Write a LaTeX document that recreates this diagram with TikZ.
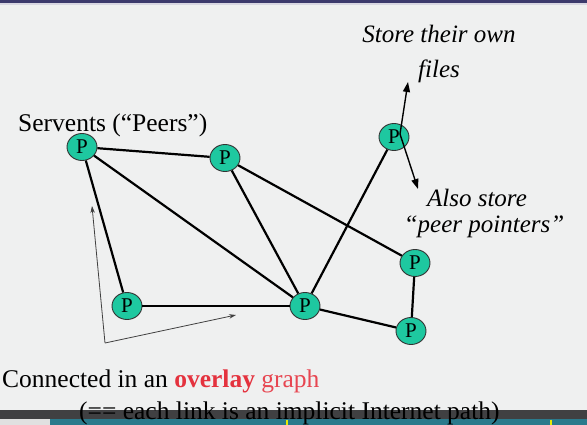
\documentclass[tikz,border=0pt]{standalone}
\usepackage{fontspec}
\setmainfont{Liberation Serif}
\usetikzlibrary{shapes.geometric,arrows.meta}
\definecolor{bgc}{RGB}{239,240,240}
\definecolor{topbar}{RGB}{60,58,108}
\definecolor{peerfill}{RGB}{30,200,160}
\definecolor{ovred}{RGB}{228,50,62}
\definecolor{bargray}{RGB}{64,64,66}
\definecolor{barteal}{RGB}{43,122,140}
\tikzset{
  peer/.style={ellipse, draw=black!80, line width=0.9pt, fill=peerfill,
    minimum width=30pt, minimum height=27pt, inner sep=0pt,
    font=\fontsize{21}{21}\selectfont},
  link/.style={line width=2.2pt, black},
  ptr/.style={line width=1.4pt, black, -{Triangle[length=10pt,width=7pt]}},
  thinarrow/.style={line width=0.8pt, black!75, -{Stealth[length=7pt,width=4.5pt]}},
  bigtext/.style={font=\fontsize{25.5}{28}\selectfont, inner sep=0pt},
  ittext/.style={font=\fontsize{25}{28}\selectfont\itshape, inner sep=0pt}
}
\begin{document}
\begin{tikzpicture}[x=1pt,y=-1pt]
\useasboundingbox (0,0) rectangle (587,425);
\fill[bgc] (0,0) rectangle (587,425);
\fill[topbar] (0,0) rectangle (587,3);
\fill[topbar!20] (0,3) rectangle (587,5.5);

% peers
\node[peer] (P1) at (82,147) {P};
\node[peer] (P2) at (225,158) {P};
\node[peer] (P3) at (394,137) {P};
\node[peer] (P4) at (415,263) {P};
\node[peer] (P5) at (411,331) {P};
\node[peer] (P6) at (305,306) {P};
\node[peer] (P7) at (127,306) {P};

% overlay links
\draw[link] (P1) -- (P2);
\draw[link] (P1) -- (P7);
\draw[link] (P1) -- (P6);
\draw[link] (P2) -- (P6);
\draw[link] (P2) -- (P4);
\draw[link] (P7) -- (P6);
\draw[link] (P6) -- (P3);
\draw[link] (P6) -- (P5);
\draw[link] (P4) -- (P5);

% labels
\node[bigtext, anchor=base west] (serv) at (18,132) {Servents (“Peers”)};
\node[ittext, anchor=base] (store1) at (439,43) {Store their own};
\node[ittext, anchor=base] (store2) at (439,78) {files};
\node[ittext, anchor=base] (also1) at (477,207) {Also store};
\node[ittext, anchor=base] (also2) at (484,233) {“peer pointers”};

% pointer arrows from P3
\coordinate (p3o) at (400,134);
\coordinate (filesTip) at (408,82);
\coordinate (alsoTip) at (418,189);
\draw[ptr] (p3o) -- (filesTip);
\draw[ptr] (p3o) -- (alsoTip);

% thin arrows
\coordinate (corner) at (105,343);
\coordinate (upTip) at (92,206);
\coordinate (rightTip) at (236,315);
\draw[thinarrow] (corner) -- (upTip);
\draw[thinarrow] (corner) -- (rightTip);

% bottom bars
\fill[bargray] (0,410) rectangle (587,419);
\fill[black!12] (0,419) rectangle (50,425);
\fill[barteal] (50,419) rectangle (587,425);
\draw[yellow!90!green, line width=1.3pt] (287,419.5) -- (287,425);
\draw[yellow!90!green, line width=1.3pt] (551,419.5) -- (551,425);

\node[bigtext, anchor=base west] (conn) at (2,387) {Connected in an \textcolor{ovred}{\textbf{overlay}} \textcolor{ovred!90}{graph}};
\node[bigtext, anchor=base west] (impl) at (79,419) {(== each link is an implicit Internet path)};
\end{tikzpicture}
\end{document}
